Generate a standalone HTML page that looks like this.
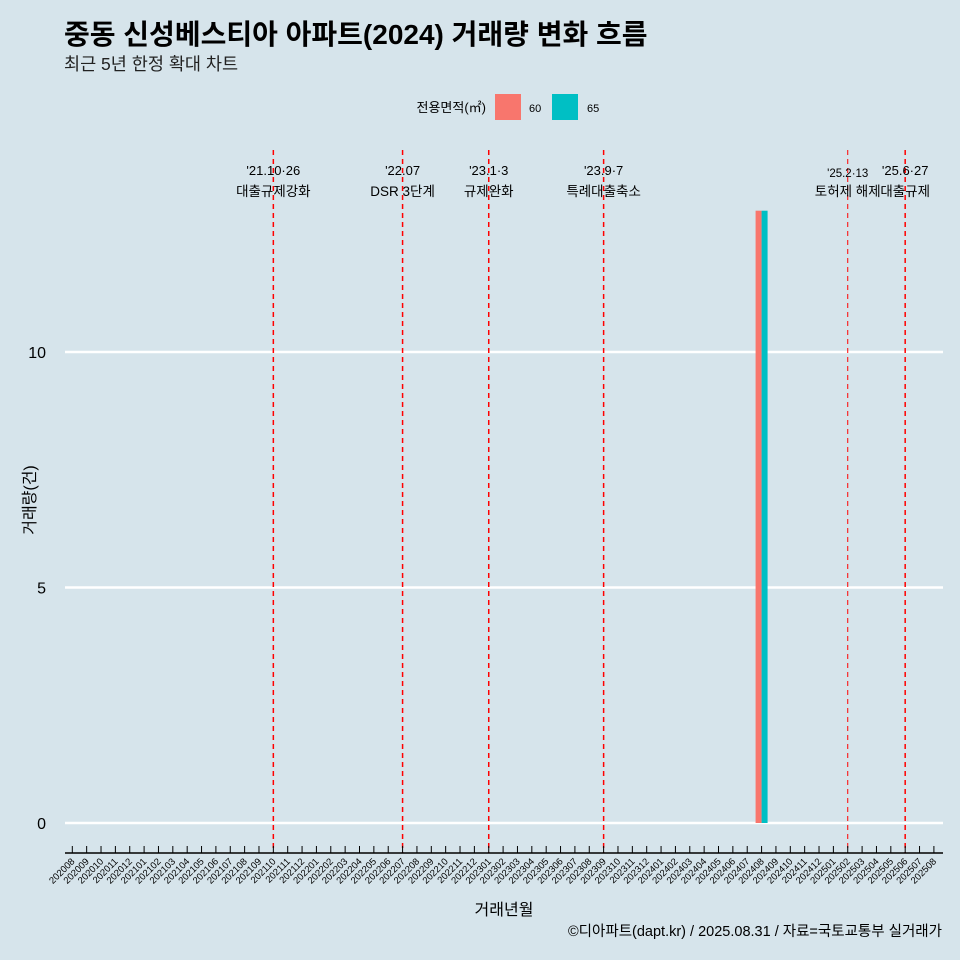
<!DOCTYPE html>
<html><head><meta charset="utf-8"><style>
html,body{margin:0;background:#d6e4eb;overflow:hidden;width:960px;height:960px}
svg{display:block}
</style></head><body>
<svg width="960" height="960" xmlns="http://www.w3.org/2000/svg" font-family="Liberation Sans, Noto Sans CJK KR, sans-serif">
<rect width="960" height="960" fill="#d6e4eb"/>
<text x="64" y="44" font-size="28" font-weight="bold" fill="#000">중동 신성베스티아 아파트(2024) 거래량 변화 흐름</text>
<text x="64" y="70" font-size="17.5" fill="#222">최근 5년 한정 확대 차트</text>
<g>
<text x="486" y="112" font-size="13" text-anchor="end">전용면적(㎡)</text>
<rect x="495" y="94" width="26" height="26" fill="#f8766d"/>
<text x="529" y="112" font-size="11">60</text>
<rect x="552" y="94" width="26" height="26" fill="#00bfc4"/>
<text x="587" y="112" font-size="11">65</text>
</g>
<g id="grid"></g><g id="events"></g><g id="bars"></g><g id="xaxis"></g><g id="yaxis"></g>
<text x="35" y="500" font-size="16" text-anchor="middle" transform="rotate(-90 35 500)">거래량(건)</text>
<text x="504" y="915" font-size="16" text-anchor="middle">거래년월</text>
<text x="942" y="936" font-size="14.5" text-anchor="end">©디아파트(dapt.kr) / 2025.08.31 / 자료=국토교통부 실거래가</text>
</svg>
<script>
const months=[];for(let y=2020;y<=2025;y++)for(let m=1;m<=12;m++){const k=y*100+m;if(k>=202008&&k<=202508)months.push(String(k));}
const barMonths=["202408"];
const series60=[13];
const series65=[13];
const yTicks=[0,5,10];
const eventMonths=["202110","202207","202301","202309","202502","202506"];
const eventDates=["'21.10·26","'22.07","'23.1·3","'23.9·7","'25.2·13","'25.6·27"];
const eventNames=["대출규제강화","DSR 3단계","규제완화","특례대출축소","토허제 해제","대출규제"];
const NS="http://www.w3.org/2000/svg";
const x=i=>72.3+i*14.36, y=v=>823-v*47.1;
function mk(p,t,a){const e=document.createElementNS(NS,t);for(const k in a)e.setAttribute(k,a[k]);document.getElementById(p).appendChild(e);return e;}
yTicks.forEach(v=>{
 const l=mk('grid','line',{x1:65,x2:943,y1:y(v),y2:y(v),stroke:'#fff','stroke-width':2.5});
 
 
 const t=mk('yaxis','text',{x:46,y:y(v)+6,'font-size':16,'text-anchor':'end'});t.textContent=v;
 
 
});
eventMonths.forEach((m,i)=>{
 const xi=x(months.indexOf(m));
 const l=mk('events','line',{x1:xi,x2:xi,y1:150,y2:853,stroke:'#f00','stroke-width':i==4?1:1.5,'stroke-dasharray':'5,4'});
 
 
 const t1=mk('events','text',{x:xi,y:i==4?177:175,'font-size':i==4?11.5:13,'text-anchor':'middle'});t1.textContent=eventDates[i];
 
 
 const t2=mk('events','text',{x:xi,y:196,'font-size':13.5,'text-anchor':'middle'});t2.textContent=eventNames[i];
 
 
});
barMonths.forEach((m,i)=>{
 const xi=x(months.indexOf(m));
 const a=mk('bars','rect',{x:xi-6,y:y(series60[i]),width:6,height:y(0)-y(series60[i]),fill:'#f8766d'});
 
 
 const b=mk('bars','rect',{x:xi,y:y(series65[i]),width:6,height:y(0)-y(series65[i]),fill:'#00bfc4'});
 
 
});
const ax=mk('xaxis','line',{x1:65,x2:943,y1:853,y2:853,stroke:'#000','stroke-width':1.5});


months.forEach((m,i)=>{
 const xi=x(i);
 const tk=mk('xaxis','line',{x1:xi,x2:xi,y1:846,y2:853,stroke:'#000','stroke-width':1});
 
 
 const t=mk('xaxis','text',{x:xi+3,y:862,'font-size':9.5,'text-anchor':'end',transform:`rotate(-45 ${xi+3} 862)`});t.textContent=m;
 
 
});
</script>
</body></html>
